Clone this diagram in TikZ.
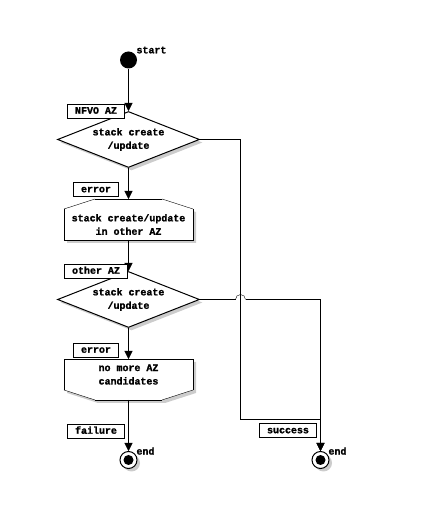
\documentclass[tikz,border=0pt]{standalone}
\usepackage{fontspec}
\newfontfamily\diafont{Liberation Mono}[UprightFont={* Bold},UprightFeatures={FakeBold=1.5}]
\usetikzlibrary{shapes.geometric,shadows,arrows.meta,backgrounds}
\begin{document}
\begin{tikzpicture}[x=1bp,y=1bp,
  font=\diafont\fontsize{10}{13.5}\selectfont,
  line width=1bp,
  shadowed/.style={drop shadow={shadow xshift=3bp,shadow yshift=-3bp,fill=black!40}},
  decision/.style={diamond,draw,fill=white,shadowed,inner sep=0pt,minimum width=142bp,minimum height=56bp,aspect=2.54,align=center},
  boxtext/.style={rectangle,inner sep=0pt,minimum width=128bp,minimum height=30bp,align=center},
  boxfill/.style={fill=white,shadowed},
  tag/.style={rectangle,draw,fill=white,inner xsep=7.5bp,inner ysep=0pt,minimum height=14bp,text height=7bp,text depth=1.5bp},
  startnode/.style={circle,fill=black,inner sep=0pt,minimum size=17bp},
  endnode/.style={circle,draw,fill=white,shadowed,inner sep=0pt,minimum size=17bp},
  plain/.style={inner sep=0pt},
  arr/.style={-{Triangle[length=8bp,width=8bp]}}]
\useasboundingbox (0,0) rectangle (448,520);

% nodes
\node[startnode] (start) at (128.5,460) {};
\node[plain,anchor=west] (starttxt) at (136,470) {start};
\node[decision] (d1) at (128.5,380.5) {stack create\\/update};
\node[boxtext] (b2) at (128.5,295.5) {stack create/update\\in other AZ};
\node[decision] (d2) at (128.5,220.5) {stack create\\/update};
\node[boxtext] (b3) at (128.5,145.5) {no more AZ\\candidates};
\node[endnode] (end1) at (128.5,60) {};
\node[endnode] (end2) at (320.5,60) {};
\fill (end1.center) circle (5bp);
\fill (end2.center) circle (5bp);
\node[plain,anchor=west] (end1txt) at (136,69) {end};
\node[plain,anchor=west] (end2txt) at (328,69) {end};

% chamfer corner points
\coordinate (b2a) at ([xshift=31bp,yshift=10bp]b2.north west);
\coordinate (b2b) at ([xshift=-31bp,yshift=10bp]b2.north east);
\coordinate (b3a) at ([xshift=31bp,yshift=-10bp]b3.south west);
\coordinate (b3b) at ([xshift=-31bp,yshift=-10bp]b3.south east);

% box outlines
\begin{pgfonlayer}{background}
\path[boxfill] (b2.south west) -- (b2.north west) -- (b2a) -- (b2b) -- (b2.north east) -- (b2.south east) -- cycle;
\path[boxfill] (b3.north west) -- (b3.south west) -- (b3a) -- (b3b) -- (b3.south east) -- (b3.north east) -- cycle;
\end{pgfonlayer}
\draw (b2.north west) -- (b2.south west) -- (b2.south east) -- (b2.north east);
\draw (b2a) -- (b2b);
\draw (b2.north west) -- (b2a);
\draw (b2b) -- (b2.north east);
\draw (b3.south west) -- (b3.north west) -- (b3.north east) -- (b3.south east);
\draw (b3a) -- (b3b);
\draw (b3.south west) -- (b3a);
\draw (b3b) -- (b3.south east);

% connectors
\coordinate (j1) at (240.5,100.5);
\coordinate (bl) at (235.5,220.5);
\coordinate (br) at (245.5,220.5);
\draw[arr] (start) -- (d1.north);
\draw[arr] (d1.south) -- ([yshift=10bp]b2.north);
\draw[arr] (b2.south) -- (d2.north);
\draw[arr] (d2.south) -- (b3.north);
\draw[arr] ([yshift=-10bp]b3.south) -- (end1.north);
\draw[arr] (d1.east) -| (j1) -| (end2.north);
\draw (d2.east) -- (bl);
\draw (bl) arc[start angle=180,end angle=0,radius=5bp];
\draw[arr] (br) -| (end2.north);

% labels
\node[tag] (t1) at (96,409) {NFVO AZ};
\node[tag] (t2) at (96,330.5) {error};
\node[tag] (t3) at (96,249) {other AZ};
\node[tag] (t4) at (96,170) {error};
\node[tag] (t5) at (96,89) {failure};
\node[tag] (t6) at (288,89.5) {success};
\end{tikzpicture}
\end{document}
